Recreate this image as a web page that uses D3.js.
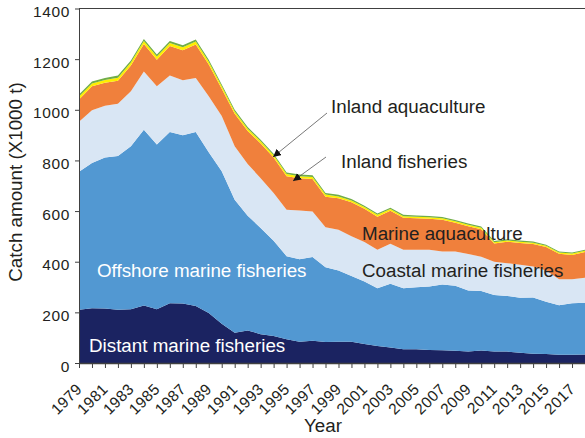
<!DOCTYPE html>
<head>
  <meta charset="utf-8">
  <style>
    body { margin:0; background:#fff; }
    text { font-family:"Liberation Sans", Arial, sans-serif; fill:#231f20; }
    .lbl { font-size:18.8px; }
  </style>
</head>
<body>
<script src="https://d3js.org/d3.v7.min.js"></script>
<script>

// DATA (thousand tonnes)
var years = d3.range(1979, 2019);
var distant = [210,216,215,210,212,227,212,236,235,225,197,155,119,128,114,107,94,84,88,83,
               84,84,75,67,61,54,54,51,50,48,45,49,45,45,40,37,36,33,33,34];
var offshore = [545,574,597,607,644,694,651,676,664,687,635,602,526,454,419,376,328,326,331,295,
                281,260,247,228,252,241,245,251,260,257,241,235,224,220,218,222,206,195,203,204];
var coastal = [198,208,204,207,217,230,230,223,218,214,221,218,211,204,197,188,183,192,179,158,
               161,157,156,152,158,152,148,145,130,135,144,136,131,129,130,122,123,103,95,99];
var marineAqua = [88,95,91,91,102,109,105,117,118,132,126,108,128,130,137,141,133,128,129,121,
                  125,134,131,131,130,127,125,123,126,114,110,108,72,85,86,89,93,100,96,101];
var inlandFish = [11,11,11,12,12,12,12,12,12,12,11,10,9,9,9,8,8,8,8,8,
                  7,7,7,7,7,6,6,6,6,6,6,6,5,5,5,5,5,5,5,5];
var inlandAqua = [8,8,8,8,8,8,8,8,8,8,8,7,7,7,6,6,6,6,6,6,
                  6,6,5,5,5,5,5,5,5,5,5,5,5,5,5,5,4,4,4,4];
var yTicks = [0,200,400,600,800,1000,1200,1400];

var keys = ["distant","offshore","coastal","marineAqua","inlandFish","inlandAqua"];
var colors = {distant:"#1b2361", offshore:"#5298d2", coastal:"#d9e6f4",
              marineAqua:"#f0803c", inlandFish:"#ffee00", inlandAqua:"#70ad47"};

var table = years.map(function(yr, i) {
  return {year:yr, distant:distant[i], offshore:offshore[i], coastal:coastal[i],
          marineAqua:marineAqua[i], inlandFish:inlandFish[i], inlandAqua:inlandAqua[i]};
});

var width = 585, height = 438;
var plotLeft = 79, plotRight = 585, plotTop = 8.5, plotBottom = 363;

var svg = d3.select("body").append("svg")
  .attr("width", width).attr("height", height);

var x = d3.scaleLinear().domain([1979, 2018]).range([plotLeft, plotRight]);
var y = d3.scaleLinear().domain([0, 1400]).range([plotBottom, plotTop]);

var series = d3.stack().keys(keys)(table);

var area = d3.area()
  .x(function(d) { return x(d.data.year); })
  .y0(function(d) { return y(d[0]); })
  .y1(function(d) { return y(d[1]); });

svg.append("g").selectAll("path")
  .data(series)
  .enter().append("path")
    .attr("fill", function(d) { return colors[d.key]; })
    .attr("d", area);

// frame top line
svg.append("line")
  .attr("x1", plotLeft).attr("x2", plotRight).attr("y1", plotTop).attr("y2", plotTop)
  .attr("stroke", "#404040").attr("stroke-width", 1);

// Y AXIS
var yAxis = svg.append("g")
  .attr("transform", "translate(" + plotLeft + ",0)")
  .call(d3.axisLeft(y).tickValues(yTicks).tickFormat(d3.format("d"))
    .tickSize(4).tickPadding(5).tickSizeOuter(0));
yAxis.select(".domain").attr("stroke", "#404040");
yAxis.selectAll(".tick line").attr("stroke", "#404040");
yAxis.selectAll(".tick text")
  .attr("dy", "0.52em")
  .attr("font-family", "Liberation Sans, Arial, sans-serif")
  .attr("font-size", 15.5)
  .style("letter-spacing", "0.6px")
  .attr("fill", "#231f20");

// X AXIS
var xAxis = svg.append("g")
  .attr("transform", "translate(0," + plotBottom + ")")
  .call(d3.axisBottom(x).tickValues(years).tickSize(5).tickSizeOuter(0).tickFormat(""));
xAxis.select(".domain").attr("stroke", "#404040").attr("stroke-width", 1.3);
xAxis.selectAll(".tick line").attr("stroke", "#404040");

svg.append("g").selectAll("text")
  .data(years.filter(function(yr) { return (yr - 1979) % 2 === 0; }))
  .enter().append("text")
    .attr("text-anchor", "end")
    .attr("transform", function(yr) {
      return "translate(" + (x(yr) + 4) + "," + (plotBottom + 27) + ") rotate(-45)";
    })
    .style("font-size", "15.5px")
    .style("letter-spacing", "0.4px")
    .text(function(yr) { return yr; });

// AXIS TITLES
svg.append("text")
  .attr("class", "lbl")
  .attr("text-anchor", "middle")
  .attr("transform", "translate(22,182) rotate(-90)")
  .text("Catch amount (X1000 t)");

svg.append("text")
  .attr("class", "lbl")
  .attr("x", 323).attr("y", 432)
  .attr("text-anchor", "middle")
  .text("Year");

// SERIES LABELS
var labels = [
  {t:"Offshore marine fisheries", x:97, y:277, c:"#fff"},
  {t:"Distant marine fisheries", x:89, y:352, c:"#fff"},
  {t:"Coastal marine fisheries", x:362, y:277, c:"#231f20"},
  {t:"Marine aquaculture", x:362, y:240, c:"#231f20"},
  {t:"Inland aquaculture", x:331, y:113, c:"#231f20"},
  {t:"Inland fisheries", x:341, y:168, c:"#231f20"}
];
svg.append("g").selectAll("text")
  .data(labels)
  .enter().append("text")
    .attr("class", "lbl")
    .attr("x", function(d) { return d.x; })
    .attr("y", function(d) { return d.y; })
    .style("fill", function(d) { return d.c; })
    .text(function(d) { return d.t; });

// ARROWS
svg.append("defs").append("marker")
  .attr("id", "head")
  .attr("viewBox", "0 0 10 10")
  .attr("refX", 10).attr("refY", 5)
  .attr("markerWidth", 8).attr("markerHeight", 8)
  .attr("markerUnits", "userSpaceOnUse")
  .attr("orient", "auto")
  .append("path").attr("d", "M0,0L10,5L0,10Z").attr("fill", "#111");

var arrows = [[327, 113, 273, 157], [326, 157, 293, 181]];
svg.append("g").selectAll("line")
  .data(arrows)
  .enter().append("line")
    .attr("x1", function(d) { return d[0]; })
    .attr("y1", function(d) { return d[1]; })
    .attr("x2", function(d) { return d[2]; })
    .attr("y2", function(d) { return d[3]; })
    .attr("stroke", "#555").attr("stroke-width", 0.8)
    .attr("marker-end", "url(#head)");

</script>
</body>
